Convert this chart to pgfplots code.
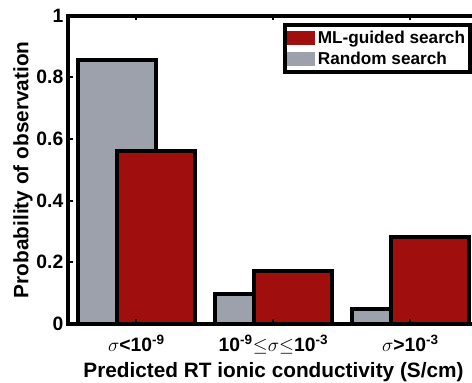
\documentclass[border=0pt]{standalone}
\usepackage{fontspec}
\setmainfont{Liberation Sans}
\usepackage{pgfplots}
\pgfplotsset{compat=1.18}
\definecolor{mlred}{RGB}{160,14,14}
\definecolor{rgray}{RGB}{156,161,171}
\begin{document}
\begin{tikzpicture}
\begin{axis}[
  scale only axis, width=308.25pt, height=231pt,
  xmin=-0.5, xmax=2.5, ymin=0, ymax=1,
  ybar, bar width=0.57,
  axis on top,
  axis line style={line width=3pt, black},
  xtick={0,1,2},
  xticklabels={{$\sigma$<10\textsuperscript{-9}},{10\textsuperscript{-9}${\leq}{\sigma}{\leq}$10\textsuperscript{-3}},{$\sigma$>10\textsuperscript{-3}}},
  ytick={0,0.2,0.4,0.6,0.8,1},
  yticklabels={0,0.2,0.4,0.6,0.8,1},
  tick align=inside,
  major tick length=3.5pt,
  every tick/.style={black, line width=1.5pt},
  /pgf/number format/assume math mode=true,
  ticklabel style={font=\fontsize{14.5}{16}\bfseries},
  xticklabel style={anchor=base, yshift=-21pt},
  xlabel={Predicted RT ionic conductivity (S/cm)},
  ylabel={Probability of observation},
  every axis x label/.style={at={(rel axis cs:0.5,0)}, anchor=center, yshift=-36pt, font=\fontsize{15.6}{18}\bfseries},
  every axis y label/.style={at={(rel axis cs:-0.1095,0.5)}, anchor=center, rotate=90, font=\fontsize{15.6}{18}\bfseries},
  reverse legend,
  legend style={at={(rel axis cs:0.522,0.975)}, anchor=north west,
    draw=black, line width=3pt, font=\fontsize{12.9}{15}\bfseries,
    inner xsep=2pt, inner ysep=2pt, row sep=1pt},
  legend cell align=left,
  legend image code/.code={\fill[#1,draw=none] (0pt,-5pt) rectangle (21pt,5.5pt);},
]
\addplot[fill=rgray, draw=black, line width=3pt, bar shift=-0.142]
  coordinates {(0,0.855) (1,0.096) (2,0.049)};
\addlegendentry{Random search}
\addplot[fill=mlred, draw=black, line width=3pt, bar shift=0.142]
  coordinates {(0,0.562) (1,0.171) (2,0.283)};
\addlegendentry{ML-guided search}
\coordinate (O) at (rel axis cs:0,0);
\end{axis}
\pgfresetboundingbox
\path[use as bounding box] ([xshift=-51pt,yshift=-44.25pt]O) rectangle ([xshift=303pt,yshift=242.8pt]O);
\end{tikzpicture}
\end{document}
